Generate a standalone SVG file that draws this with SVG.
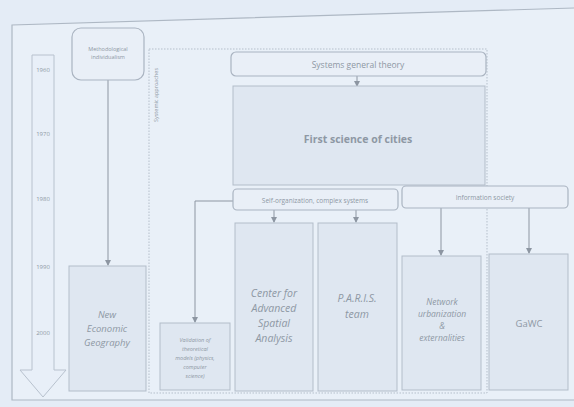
<svg xmlns="http://www.w3.org/2000/svg" width="574" height="407" viewBox="0 0 574 407">
<style>
text{font-family:"Open Sans","Liberation Sans",sans-serif;fill:#8e98a4;text-anchor:middle}
.box{fill:#dfe7f1;stroke:#b3bdc9;stroke-width:1}
.rbox{fill:#e9eff7;stroke:#aab4c1;stroke-width:1.2}
.ln{stroke:#8d96a2;stroke-width:1;fill:none}
.it{font-style:italic}
</style>
<defs>
<marker id="ah" markerWidth="6" markerHeight="6" refX="5" refY="3" orient="auto" markerUnits="userSpaceOnUse">
<path d="M0,0 L6,3 L0,6 z" fill="#8d96a2"/>
</marker>
</defs>
<rect width="574" height="407" fill="#e4ecf6"/>
<path d="M574,8 L12,25 L12,400 L574,400" fill="#e9f0f8" stroke="#aeb8c4" stroke-width="1.2"/>
<g id="timeline">
<path d="M32,55 L54,55 L54,370 L66,370 L43,397 L20,370 L32,370 Z" fill="#e8eff8" stroke="#b8c2ce" stroke-width="1"/>
<text x="43" y="72" font-size="6">1960</text>
<text x="43" y="136" font-size="6">1970</text>
<text x="43" y="201" font-size="6">1980</text>
<text x="43" y="269" font-size="6">1990</text>
<text x="43" y="335" font-size="6">2000</text>
</g>
<g id="systemic-frame">
<rect x="149" y="49" width="338" height="344" fill="none" stroke="#b5bfcb" stroke-width="1" stroke-dasharray="1.5,1.5"/>
<text x="158" y="95" font-size="5.5" transform="rotate(-90 158 95)">Systemic approaches</text>
</g>
<g id="connectors">
<line class="ln" x1="108" y1="80" x2="108" y2="265" marker-end="url(#ah)"/>
<line class="ln" x1="357" y1="76" x2="357" y2="86" marker-end="url(#ah)"/>
<line class="ln" x1="274" y1="210" x2="274" y2="222" marker-end="url(#ah)"/>
<line class="ln" x1="356" y1="210" x2="356" y2="222" marker-end="url(#ah)"/>
<polyline class="ln" points="233,201 195,201 195,322" marker-end="url(#ah)"/>
<line class="ln" x1="441" y1="208" x2="441" y2="255" marker-end="url(#ah)"/>
<line class="ln" x1="529" y1="208" x2="529" y2="253" marker-end="url(#ah)"/>
</g>
<g id="methodological">
<rect class="rbox" x="72" y="28" width="72" height="52" rx="9"/>
<text x="108" y="51" font-size="5.5">Methodological</text>
<text x="108" y="59" font-size="5.5">individualism</text>
</g>
<g id="neg">
<rect class="box" x="69" y="266" width="77" height="125"/>
<text class="it" x="107" y="318" font-size="9.5">New</text>
<text class="it" x="107" y="332" font-size="9.5">Economic</text>
<text class="it" x="107" y="346" font-size="9.5">Geography</text>
</g>
<g id="sgt">
<rect class="rbox" x="231" y="52" width="255" height="24" rx="5"/>
<text x="358" y="68" font-size="8.5">Systems general theory</text>
</g>
<g id="fsc">
<rect class="box" x="233" y="86" width="252" height="99"/>
<text x="358" y="143" font-size="10.5" font-weight="bold">First science of cities</text>
</g>
<g id="selforg">
<rect class="rbox" x="233" y="189" width="165" height="21" rx="4"/>
<text x="315" y="203" font-size="6.5">Self-organization, complex systems</text>
</g>
<g id="infosoc">
<rect class="rbox" x="402" y="186" width="166" height="22" rx="4"/>
<text x="485" y="200" font-size="6.5">Information society</text>
</g>
<g id="validation">
<rect class="box" x="160" y="323" width="70" height="67"/>
<text class="it" x="195" y="342" font-size="5.5">Validation of</text>
<text class="it" x="195" y="351" font-size="5.5">theoretical</text>
<text class="it" x="195" y="360" font-size="5.5">models (physics,</text>
<text class="it" x="195" y="369" font-size="5.5">computer</text>
<text class="it" x="195" y="378" font-size="5.5">science)</text>
</g>
<g id="casa">
<rect class="box" x="235" y="223" width="78" height="168"/>
<text class="it" x="274" y="297" font-size="10.5">Center for</text>
<text class="it" x="274" y="312" font-size="10.5">Advanced</text>
<text class="it" x="274" y="327" font-size="10.5">Spatial</text>
<text class="it" x="274" y="342" font-size="10.5">Analysis</text>
</g>
<g id="paris">
<rect class="box" x="318" y="223" width="79" height="168"/>
<text class="it" x="357" y="302" font-size="10.5">P.A.R.I.S.</text>
<text class="it" x="357" y="318" font-size="10.5">team</text>
</g>
<g id="network">
<rect class="box" x="402" y="256" width="79" height="134"/>
<text class="it" x="442" y="305" font-size="8.5">Network</text>
<text class="it" x="442" y="317" font-size="8.5">urbanization</text>
<text class="it" x="442" y="329" font-size="8.5">&amp;</text>
<text class="it" x="442" y="341" font-size="8.5">externalities</text>
</g>
<g id="gawc">
<rect class="box" x="489" y="254" width="79" height="136"/>
<text x="529" y="327" font-size="9.5">GaWC</text>
</g>
</svg>
